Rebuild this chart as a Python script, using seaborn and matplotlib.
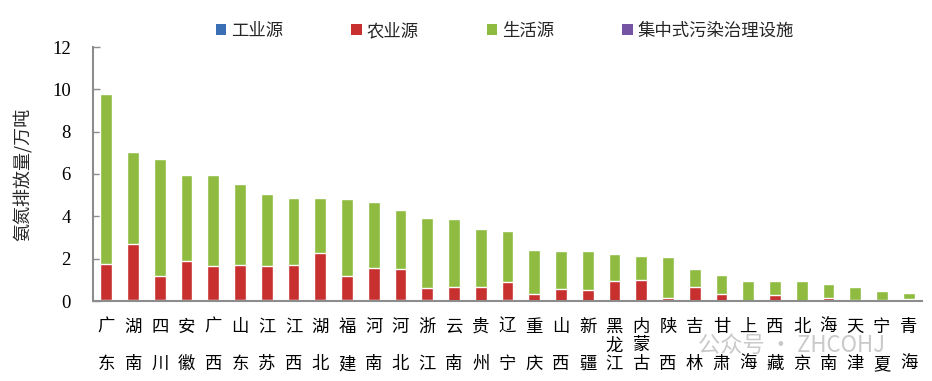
import numpy as np
import pandas as pd
import matplotlib.pyplot as plt
import seaborn as sns
from matplotlib.patches import Patch

sns.set_theme(style="white")
plt.rcParams['font.family'] = ['Liberation Serif', 'Noto Sans CJK SC']

CJK = ['Noto Sans CJK SC', 'DejaVu Sans']

provinces = ["广东", "湖南", "四川", "安徽", "广西", "山东", "江苏", "江西", "湖北", "福建",
             "河南", "河北", "浙江", "云南", "贵州", "辽宁", "重庆", "山西", "新疆", "黑龙江",
             "内蒙古", "陕西", "吉林", "甘肃", "上海", "西藏", "北京", "海南", "天津", "宁夏", "青海"]

# 万吨
industrial = [0.06, 0.03, 0.03, 0.04, 0.03, 0.05, 0.05, 0.03, 0.03, 0.04,
              0.04, 0.04, 0.04, 0.02, 0.02, 0.03, 0.02, 0.02, 0.01, 0.02,
              0.02, 0.01, 0.02, 0.01, 0.01, 0.00, 0.01, 0.01, 0.02, 0.01, 0.00]
agricultural = [1.69, 2.67, 1.17, 1.86, 1.64, 1.66, 1.62, 1.67, 2.23, 1.15,
                1.52, 1.48, 0.59, 0.66, 0.63, 0.86, 0.33, 0.56, 0.51, 0.93,
                0.98, 0.13, 0.63, 0.32, 0.01, 0.30, 0.01, 0.15, 0.04, 0.04, 0.08]
domestic = [8.02, 4.36, 5.50, 4.06, 4.26, 3.81, 3.38, 3.17, 2.61, 3.63,
            3.13, 2.78, 3.29, 3.20, 2.75, 2.41, 2.05, 1.78, 1.84, 1.26,
            1.13, 1.93, 0.85, 0.88, 0.91, 0.63, 0.91, 0.63, 0.58, 0.41, 0.29]
facilities = [0.03, 0.02, 0.02, 0.02, 0.02, 0.03, 0.03, 0.02, 0.02, 0.02,
              0.02, 0.02, 0.02, 0.02, 0.01, 0.02, 0.01, 0.01, 0.01, 0.01,
              0.01, 0.01, 0.01, 0.01, 0.01, 0.01, 0.01, 0.01, 0.01, 0.00, 0.00]

series = ["工业源", "农业源", "生活源", "集中式污染治理设施"]
colors = ["#3A6FB5", "#C7302F", "#8FBB40", "#7454A3"]

df = pd.DataFrame({"省份": provinces, "工业源": industrial, "农业源": agricultural,
                   "生活源": domestic, "集中式污染治理设施": facilities})
cum = df[series].cumsum(axis=1)
cum["省份"] = df["省份"]

fig = plt.figure(figsize=(9.32, 3.81), dpi=100)
ax = fig.add_axes([93 / 932, 1 - 301 / 381, (922 - 93) / 932, (301 - 47) / 381])

# 堆叠：从最高的累计值往下画
for s, c in reversed(list(zip(series, colors))):
    sns.barplot(data=cum, x="省份", y=s, color=c, saturation=1, width=0.44,
                ax=ax, order=provinces)

ax.set_xlim(-0.5, len(provinces) - 0.5)
ax.set_ylim(0, 12)
ax.set_yticks(range(0, 13, 2))

axis_color = "#8C8C8C"
for side in ["top", "right"]:
    ax.spines[side].set_visible(False)
for side in ["left", "bottom"]:
    ax.spines[side].set_color(axis_color)
    ax.spines[side].set_linewidth(1.5)

labels = [n[0] + "\n\n" + n[1] if len(n) == 2 else "\n".join(n) for n in provinces]
ax.set_xticks(range(len(provinces)))
ax.set_xticklabels(labels, family=CJK, fontsize=12.5, linespacing=1.05, va="top")
ax.tick_params(axis="x", which="major", length=0, pad=12, colors="black")
ax.set_xticks(np.arange(0.5, len(provinces), 1), minor=True)
ax.tick_params(axis="x", which="minor", direction="in", length=4, width=1, color=axis_color)
ax.tick_params(axis="y", direction="in", length=5, width=1, color=axis_color,
               labelsize=13.5, pad=16, left=True)
for t in ax.get_yticklabels():
    t.set_color("black")

ax.set_xlabel("")
ax.set_ylabel("氨氮排放量/万吨", family=CJK, fontsize=13)
ax.yaxis.set_label_coords(-0.073, 0.5)

handles = [Patch(facecolor=c, edgecolor="none") for c in colors]
fig.legend(handles, series, loc="center", bbox_to_anchor=(505 / 932, 1 - 31 / 381),
           ncol=4, frameon=False, prop={"family": CJK, "size": 12.5},
           handlelength=0.6, handleheight=0.6, handletextpad=0.3, columnspacing=3.9)

# 水印
fig.text(698 / 932, 1 - 345 / 381, "公众号 · ZHCOHJ", family=CJK, fontsize=16,
         color="#C9C9C9", va="center", ha="left", zorder=0)

fig.savefig("out.png", dpi=100)
